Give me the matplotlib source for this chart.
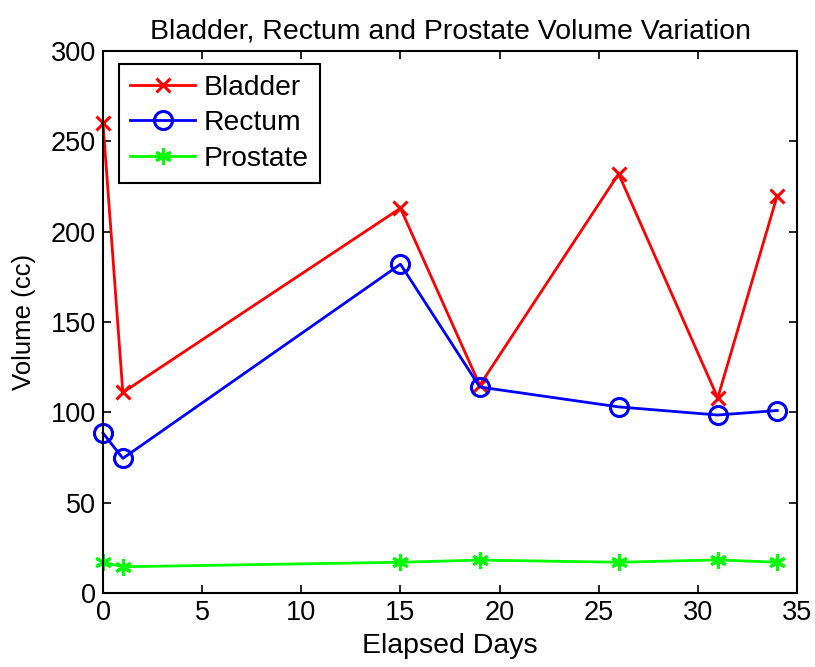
import matplotlib
matplotlib.use("Agg")
import matplotlib.pyplot as plt

plt.rcParams['font.family'] = ['Liberation Sans', 'DejaVu Sans']

days = [0, 1, 15, 19, 26, 31, 34]
bladder = [260, 111, 213, 115, 232, 108, 220]
rectum = [88.5, 74.5, 182, 114, 103, 98.5, 101]
prostate = [17, 14.5, 17, 18.2, 17, 18.3, 17]

x_ticks = [0, 5, 10, 15, 20, 25, 30, 35]
y_ticks = [0, 50, 100, 150, 200, 250, 300]

fig = plt.figure(figsize=(8.15, 6.67), dpi=100)
ax = fig.add_axes([0.1264, 0.111, 0.8516, 0.8125])

lw = 2.0
ax.plot(days, bladder, color='#ff0000', lw=lw, marker='x', ms=10, mew=2.2,
        label='Bladder', clip_on=False)
ax.plot(days, rectum, color='#0000ff', lw=lw, marker='o', ms=13, mew=2.2,
        mfc='none', label='Rectum', clip_on=False)
ax.plot(days, prostate, color='#00ff00', lw=lw, marker=(6, 2, 0), ms=12, mew=2.2,
        label='Prostate', clip_on=False)

ax.set_xlim(0, 35)
ax.set_ylim(0, 300)
ax.set_xticks(x_ticks)
ax.set_yticks(y_ticks)
ax.tick_params(direction='in', top=True, right=True, labelsize=19.5, length=6, width=1.2, pad=5)
for s in ax.spines.values():
    s.set_linewidth(1.5)

ax.set_xlabel('Elapsed Days', fontsize=20.5, labelpad=5)
ax.set_ylabel('Volume (cc)', fontsize=18.5, labelpad=11)
ax.set_title('Bladder, Rectum and Prostate Volume Variation', fontsize=20.5, pad=9)

leg = ax.legend(loc='upper left', bbox_to_anchor=(0.0231, 0.9765), fontsize=20.3,
                fancybox=False, edgecolor='black', framealpha=1, handlelength=2.3,
                borderpad=0.4, labelspacing=0.33, handletextpad=0.3, borderaxespad=0)
leg.get_frame().set_linewidth(1.5)

fig.savefig('out.png', dpi=100)
